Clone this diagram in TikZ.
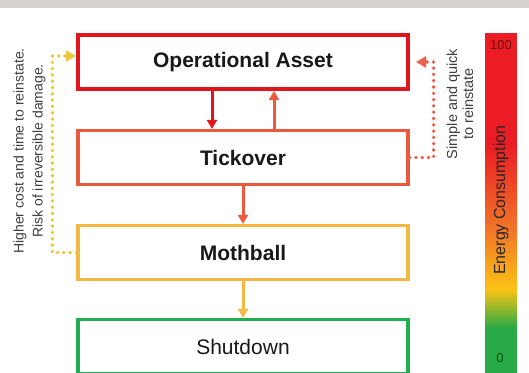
\documentclass[tikz,border=0pt]{standalone}
\usepackage{fontspec}
\setmainfont{Liberation Sans}
\usetikzlibrary{arrows.meta}
\definecolor{band}{RGB}{214,210,204}
\definecolor{opred}{RGB}{228,20,28}
\definecolor{tickc}{RGB}{235,90,60}
\definecolor{mothc}{RGB}{244,185,66}
\definecolor{shutc}{RGB}{28,176,80}
\definecolor{ldot}{RGB}{236,198,60}
\definecolor{rdot}{RGB}{235,95,75}
\definecolor{cbred}{RGB}{236,28,36}
\definecolor{cborange}{RGB}{241,120,40}
\definecolor{cbyellow}{RGB}{250,195,20}
\definecolor{cbgreen}{RGB}{40,170,70}
\begin{document}
\begin{tikzpicture}[x=1pt,y=-1pt,
  box/.style={draw, fill=white, minimum width=330pt, minimum height=54pt, inner sep=0pt,
    line width=3.2pt, font=\fontsize{21}{25}\selectfont\bfseries, text=black!90},
  flow/.style={line width=3pt, -{Triangle[length=9pt,width=10pt]}},
  dotline/.style={line width=3.8pt, dash pattern=on 0pt off 6.3pt, line cap=round,
    -{Triangle[length=10pt,width=11pt]}},
  note/.style={rotate=90, align=center, text=black!75, inner sep=0pt}]
\useasboundingbox (0,0) rectangle (529,372);
\fill[white] (0,0) rectangle (529,372);
\fill[band] (0,0) rectangle (529,8);

% colour bar
\fill[cbred] (485,33) rectangle (517,145);
\shade[top color=cbred, bottom color=cborange] (485,144.5) rectangle (517,232);
\shade[top color=cborange, bottom color=cbyellow] (485,231.5) rectangle (517,290);
\shade[top color=cbyellow, bottom color=cbgreen] (485,289.5) rectangle (517,328);
\fill[cbgreen] (485,327.5) rectangle (517,380);
\node[font=\fontsize{13}{15}\selectfont, text={rgb,255:red,110;green,10;blue,10}] (hundred) at (501,45) {100};
\node[font=\fontsize{13}{15}\selectfont, text={rgb,255:red,15;green,80;blue,25}] (zero) at (500,358) {0};
\node[rotate=90, font=\fontsize{16}{18}\selectfont, text=black!85] (energy) at (501,200) {Energy Consumption};

% boxes
\node[box, draw=opred, line width=4pt] (op) at (243,62) {Operational Asset};
\node[box, draw=tickc] (tick) at (243,157.5) {Tickover};
\node[box, draw=mothc] (moth) at (243,252.5) {Mothball};
\node[box, draw=shutc, font=\fontsize{21}{25}\selectfont] (shut) at (243,346.5) {Shutdown};

% solid arrows
\draw[flow, opred] ([xshift=-31pt]op.south) -- ([xshift=-31pt]tick.north);
\draw[flow, tickc] ([xshift=31pt]tick.north) -- ([xshift=31pt]op.south);
\draw[flow, tickc] (tick.south) -- (moth.north);
\draw[flow, mothc] (moth.south) -- (shut.north);

% dotted return paths
\draw[dotline, ldot] (moth.west) -- ++(-24,0) |- ([yshift=6pt]op.west);
\coordinate (rtip) at ([xshift=6pt]op.east);
\draw[dotline, rdot] (tick.east) -- ++(24,0) |- (rtip);

% notes
\node[note, font=\fontsize{14}{19}\selectfont] (lnote) at (29.5,151) {Higher cost and time to reinstate.\\Risk of irreversible damage.};
\node[note, font=\fontsize{14.5}{16}\selectfont] (rnote) at (460,104) {Simple and quick\\to reinstate};
\end{tikzpicture}
\end{document}
